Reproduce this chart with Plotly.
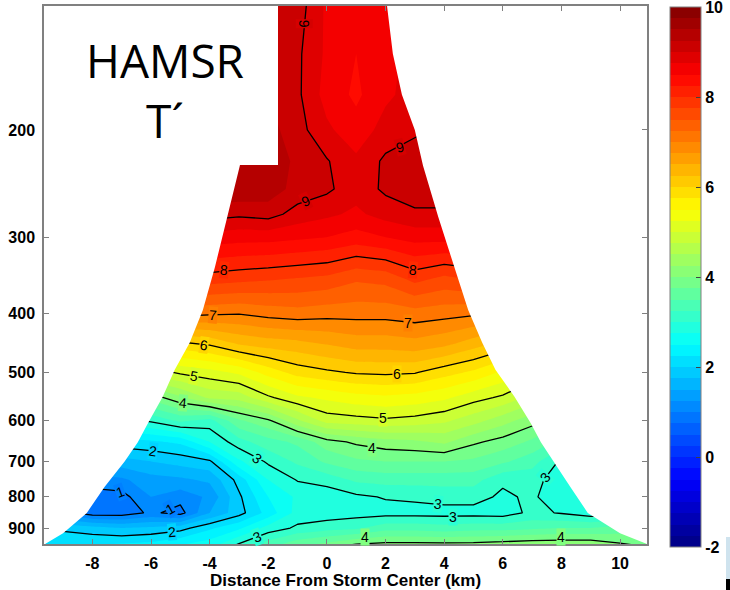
import numpy as np
import plotly.graph_objects as go

# Grid of the analysis: distance from storm center (km) and pressure level (hPa)
DISTANCE_KM = list(range(-10, 12))
PRESSURE_HPA = [120, 150, 175, 200, 225, 250, 275, 300, 350, 400, 450,
                500, 550, 600, 650, 700, 750, 800, 850, 900, 960]

# Temperature anomaly T' (K): one profile per distance, listed top (120 hPa) to bottom (960 hPa)
T_PRIME_COLUMNS = [
    [9.45, 9.4, 9.45, 9.5, 9.5, 9.5, 9.2, 8.8, 8.1, 7.35, 5.5, 4.4, 3.3, 2.65, 2.05, 1.55, 1.2, 1.05, 1.3, 2.0, 2.25],      # -10
    [9.45, 9.4, 9.45, 9.5, 9.5, 9.5, 9.2, 8.8, 8.1, 7.3, 5.55, 4.5, 3.4, 2.7, 2.05, 1.55, 1.15, 0.95, 1.1, 1.95, 2.2],     # -9
    [9.45, 9.4, 9.45, 9.5, 9.5, 9.5, 9.2, 8.8, 8.05, 7.3, 5.6, 4.6, 3.5, 2.8, 2.1, 1.6, 1.15, 0.85, 0.85, 1.85, 2.25],     # -8
    [9.45, 9.4, 9.45, 9.5, 9.5, 9.5, 9.2, 8.8, 8.05, 7.25, 5.7, 4.7, 3.6, 2.9, 2.15, 1.65, 1.2, 0.9, 0.85, 1.75, 2.3],     # -7
    [9.45, 9.4, 9.45, 9.5, 9.5, 9.5, 9.15, 8.75, 8.0, 7.2, 5.8, 4.85, 3.85, 3.05, 2.2, 1.75, 1.4, 1.25, 1.05, 1.8, 2.35],  # -6
    [9.45, 9.4, 9.45, 9.5, 9.5, 9.5, 9.1, 8.7, 7.95, 7.1, 5.9, 5.05, 4.2, 3.3, 2.3, 1.85, 1.45, 1.1, 0.9, 1.9, 2.5],       # -5
    [9.4, 9.35, 9.4, 9.5, 9.5, 9.45, 9.1, 8.65, 7.9, 7.05, 6.02, 5.15, 4.55, 3.15, 2.75, 1.95, 1.55, 1.3, 1.5, 2.2, 2.65], # -4
    [9.35, 9.3, 9.4, 9.45, 9.5, 9.45, 9.05, 8.6, 7.85, 7.02, 6.25, 5.3, 4.6, 3.7, 3.15, 2.7, 2.1, 1.95, 1.9, 2.45, 3.05], # -3
    [9.3, 9.2, 9.25, 9.35, 9.4, 9.4, 9.1, 8.6, 7.8, 7.1, 6.35, 5.6, 4.95, 3.95, 3.4, 3.05, 2.75, 2.5, 2.35, 2.85, 3.4],   # -2
    [9.15, 9.05, 9.05, 9.1, 9.2, 9.15, 8.9, 8.55, 7.75, 7.15, 6.4, 5.85, 5.2, 4.45, 3.55, 3.3, 3.02, 2.8, 2.85, 3.05, 3.7], # -1
    [8.7, 8.7, 8.65, 8.8, 9.02, 9.05, 8.8, 8.5, 7.7, 7.1, 6.5, 5.95, 5.3, 4.85, 3.9, 3.55, 3.1, 2.85, 2.85, 3.15, 3.85],   # 0
    [8.55, 8.5, 8.45, 8.6, 8.8, 8.85, 8.7, 8.4, 7.55, 7.1, 6.6, 6.03, 5.4, 4.9, 4.05, 3.7, 3.3, 2.95, 2.9, 3.2, 4.05],    # 1
    [8.7, 8.65, 8.7, 8.85, 9.05, 9.05, 8.85, 8.5, 7.6, 7.1, 6.6, 6.05, 5.45, 4.95, 4.15, 3.75, 3.35, 3.02, 2.9, 3.4, 4.1], # 2
    [8.9, 8.85, 8.85, 8.95, 9.15, 9.15, 8.95, 8.6, 7.85, 7.15, 6.65, 6.02, 5.4, 4.9, 4.2, 3.75, 3.35, 3.05, 2.9, 3.4, 4.1], # 3
    [9.0, 8.95, 8.95, 9.05, 9.15, 9.15, 8.95, 8.6, 7.7, 7.1, 6.55, 5.85, 5.3, 4.8, 4.3, 3.75, 3.35, 3.1, 2.9, 3.35, 4.1],  # 4
    [9.0, 8.95, 8.95, 9.05, 9.1, 9.1, 8.9, 8.6, 7.8, 7.05, 6.35, 5.7, 5.1, 4.6, 4.05, 3.7, 3.35, 3.1, 2.9, 3.4, 4.1],      # 5
    [9.0, 8.95, 8.95, 9.05, 9.1, 9.1, 8.9, 8.55, 7.75, 6.95, 6.15, 5.45, 4.95, 4.35, 3.9, 3.55, 3.05, 2.95, 2.88, 3.4, 4.15], # 6
    [9.0, 8.95, 8.95, 9.02, 9.05, 9.05, 8.85, 8.5, 7.7, 6.9, 5.95, 5.2, 4.65, 4.1, 3.7, 3.35, 3.1, 3.05, 3.06, 3.45, 4.2],  # 7
    [9.0, 8.95, 8.95, 9.02, 9.05, 9.05, 8.85, 8.5, 7.65, 6.8, 5.8, 5.02, 4.3, 3.8, 3.4, 2.95, 2.85, 2.8, 2.98, 3.5, 4.2],   # 8
    [9.02, 8.95, 8.95, 9.02, 9.02, 9.02, 8.8, 8.45, 7.6, 6.7, 5.7, 4.8, 4.05, 3.5, 3.2, 2.9, 2.75, 2.7, 2.85, 3.5, 4.2],    # 9
    [9.02, 8.95, 8.95, 9.02, 9.02, 9.02, 8.8, 8.4, 7.55, 6.6, 5.6, 4.6, 3.8, 3.3, 2.95, 2.8, 2.7, 2.7, 2.9, 3.6, 4.05],     # 10
    [9.02, 8.95, 8.95, 9.02, 9.02, 9.02, 8.8, 8.4, 7.5, 6.5, 5.5, 4.5, 3.7, 3.2, 2.9, 2.75, 2.7, 2.75, 2.95, 3.6, 3.95],    # 11
]

# Lateral limits of the sampled cross-section at each pressure level
EDGE_P = [125, 150, 175, 200, 229, 278, 336, 395, 447, 495, 548, 605, 651, 700, 770, 850, 918, 955]
EDGE_LEFT_KM = [-1.77, -2.1, -2.45, -2.75, -2.97, -3.41, -3.82, -4.23, -4.68, -5.19, -5.6,
                -6.1, -6.45, -6.9, -7.58, -8.19, -9.0, -9.6]
EDGE_RIGHT_KM = [2.05, 2.25, 2.56, 3.0, 3.28, 3.8, 4.35, 4.82, 5.3, 5.75, 6.4,
                 6.95, 7.3, 7.72, 8.3, 8.9, 10.0, 10.9]

ISOTHERM_LEVELS = [1, 2, 3, 4, 5, 6, 7, 8, 9]
X_TICKS = [-8, -6, -4, -2, 0, 2, 4, 6, 8, 10]
Y_TICKS = [200, 300, 400, 500, 600, 700, 800, 900]
CBAR_TICKS = [-2, 0, 2, 4, 6, 8, 10]

z = np.array(T_PRIME_COLUMNS).T
ZMIN, ZMAX, BAND = -2, 10, 0.25

jet = [
    [0.0, (0, 0, 128)],
    [0.125, (0, 0, 255)],
    [0.375, (0, 255, 255)],
    [0.625, (255, 255, 0)],
    [0.875, (255, 0, 0)],
    [1.0, (128, 0, 0)],
]
jet_scale = [[s, "rgb(%d,%d,%d)" % c] for s, c in jet]


def jet_color(value):
    """Colour of the jet scale at a given T' value."""
    s = (value - ZMIN) / (ZMAX - ZMIN)
    stops = [p for p, _ in jet]
    rgb = [np.interp(s, stops, [c[i] for _, c in jet]) for i in range(3)]
    return "rgb(%d,%d,%d)" % tuple(int(round(v)) for v in rgb)


# Stepped version of the scale for the colour bar (one step per filled band)
n_bands = int(round((ZMAX - ZMIN) / BAND))
stepped_scale = []
for i in range(n_bands):
    c = jet_color(ZMIN + (i + 0.5) * BAND)
    stepped_scale += [[i / n_bands, c], [(i + 1) / n_bands, c]]

axis_gray = "#808080"
label_family = "Liberation Sans, Arial, sans-serif"
tick_font = dict(family=label_family, size=16, color="black", weight="bold")

fig = go.Figure()

# Filled field
fig.add_trace(go.Contour(
    x=DISTANCE_KM, y=PRESSURE_HPA, z=z,
    zmin=ZMIN, zmax=ZMAX, colorscale=jet_scale,
    contours=dict(start=ZMIN, end=ZMAX, size=BAND, coloring="fill", showlines=False),
    line=dict(width=0, smoothing=0),
    showscale=False,
    hoverinfo="skip",
))

# Isotherms every 1 K
fig.add_trace(go.Contour(
    x=DISTANCE_KM, y=PRESSURE_HPA, z=z,
    showscale=False,
    contours=dict(start=ISOTHERM_LEVELS[0], end=ISOTHERM_LEVELS[-1], size=1,
                  coloring="none", showlabels=False),
    line=dict(color="black", width=1.3, smoothing=0),
    hoverinfo="skip",
))

# Blank out everything outside the sampled cross-section
left_x = [-12, EDGE_LEFT_KM[0]] + EDGE_LEFT_KM + [EDGE_LEFT_KM[-1], -12]
right_x = [14, EDGE_RIGHT_KM[0]] + EDGE_RIGHT_KM + [EDGE_RIGHT_KM[-1], 14]
mask_p = [100, 100] + EDGE_P + [1000, 1000]
for xs in (left_x, right_x):
    fig.add_trace(go.Scatter(
        x=xs, y=mask_p, mode="lines", fill="toself",
        fillcolor="white", line=dict(width=0, color="white"),
        hoverinfo="skip", showlegend=False,
    ))

# Colour bar for the T' scale
fig.add_trace(go.Scatter(
    x=[None], y=[None], mode="markers", showlegend=False, hoverinfo="skip",
    marker=dict(
        color=[ZMIN], cmin=ZMIN, cmax=ZMAX, colorscale=stepped_scale, showscale=True,
        colorbar=dict(
            x=(670 - 44) / 603, xanchor="left", xpad=0,
            y=1 - (277 - 6) / 538, yanchor="middle", ypad=0,
            lenmode="pixels", len=540,
            thicknessmode="pixels", thickness=31,
            outlinecolor=axis_gray, outlinewidth=1,
            tickvals=CBAR_TICKS, ticktext=[str(v) for v in CBAR_TICKS],
            ticks="inside", ticklen=5, tickcolor="#404040",
            ticklabeloverflow="allow",
            tickfont=tick_font,
        ),
    ),
))

# Inline isotherm labels: (level, distance km, pressure hPa, text angle)
label_spots = [
    (9, -0.77, 134, 90), (9, -0.72, 262, -25), (9, 2.5, 213, -15),
    (8, -3.5, 340, 5), (8, 2.95, 340, 5),
    (7, -3.9, 402, 5), (7, 2.75, 414, 0),
    (6, -4.2, 450, 8), (6, 2.4, 503, 0),
    (5, -4.55, 507, 10), (5, 1.9, 594, 0),
    (4, -4.9, 561, 5), (4, 1.55, 664, 0),
    (3, -2.4, 692, 37), (3, 3.8, 822, 8), (3, 4.3, 862, 0),
    (3, 7.45, 742, -50), (3, -2.4, 930, -21),
    (2, -5.94, 672, 8), (2, -5.3, 913, -5),
    (1, -7.05, 784, -20), (1, -5.35, 836, -30),
    (4, 1.3, 930, 0), (4, 8.0, 932, 0),
]
label_annotations = [
    dict(text=str(level), x=xk, y=np.log10(pk), xref="x", yref="y",
         showarrow=False, textangle=ang, xanchor="center", yanchor="middle",
         bgcolor=jet_color(level), borderpad=0,
         font=dict(family=label_family, size=14, color="black"))
    for level, xk, pk, ang in label_spots
]

fig.update_layout(
    width=730, height=590,
    margin=dict(l=44, r=83, t=6, b=46, autoexpand=False),
    paper_bgcolor="white", plot_bgcolor="white",
    showlegend=False,
    xaxis=dict(
        range=[-9.65, 10.92], automargin=False,
        tickvals=X_TICKS, ticktext=[str(v) for v in X_TICKS],
        ticks="inside", ticklen=5, tickcolor=axis_gray,
        showline=True, linecolor=axis_gray, linewidth=1.5, mirror="ticks",
        showgrid=False, zeroline=False,
        tickfont=tick_font, ticklabelstandoff=4,
        title=dict(text="Distance From Storm Center (km)", standoff=9,
                   font=dict(family=label_family, size=17,
                             color="black", weight="bold")),
    ),
    yaxis=dict(
        type="log", automargin=False,
        range=[np.log10(956), np.log10(125.2)],
        tickvals=Y_TICKS, ticktext=[str(v) for v in Y_TICKS],
        ticks="inside", ticklen=5, tickcolor=axis_gray,
        showline=True, linecolor=axis_gray, linewidth=1.5, mirror="ticks",
        showgrid=False, zeroline=False,
        tickfont=tick_font, ticklabelstandoff=4,
    ),
    shapes=[
        dict(type="rect", xref="paper", yref="paper", layer="above",
             x0=0, x1=(278 - 44) / 603, y0=1 - (165 - 6) / 538, y1=1,
             fillcolor="white", line=dict(width=0)),
        dict(type="rect", xref="paper", yref="paper", layer="above",
             x0=(726 - 44) / 603, x1=(732 - 44) / 603,
             y0=1 - (590 - 6) / 538, y1=1 - (537 - 6) / 538,
             fillcolor="#cfe3ee", line=dict(width=0)),
        dict(type="rect", xref="paper", yref="paper", layer="above",
             x0=(726 - 44) / 603, x1=(732 - 44) / 603,
             y0=1 - (592 - 6) / 538, y1=1 - (579 - 6) / 538,
             fillcolor="black", line=dict(width=0)),
    ],
    annotations=label_annotations + [
        dict(text="HAMSR<br>T´", xref="paper", yref="paper",
             x=(165 - 44) / 603, y=1 - (90 - 6) / 538,
             xanchor="center", yanchor="middle", showarrow=False, align="center",
             font=dict(family="Open Sans, sans-serif", size=46, color="black")),
    ],
)

fig.write_html("out.html")
